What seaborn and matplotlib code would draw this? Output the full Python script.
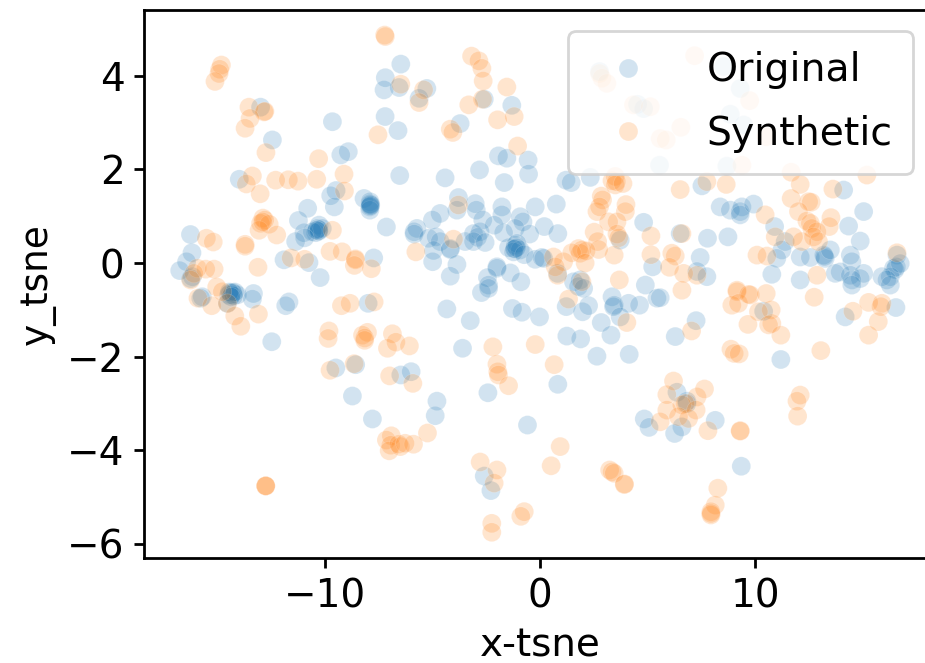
import matplotlib
matplotlib.use("Agg")
import matplotlib.pyplot as plt
import pandas as pd
import seaborn as sns

# points, (x_tsne, y_tsne)
original_tsne = [
    (-13.0,3.33),(-9.66,3.02),(-12.45,2.63),(-7.21,3.13),(-6.61,2.83),(-8.92,2.38),(-9.27,2.31),(-6.48,4.25),
    (-7.2,3.96),(-7.26,3.7),(-6.56,3.75),(-6.53,1.87),(-13.99,1.79),(-9.49,1.55),(-9.74,1.44),(-9.57,1.2),
    (-8.19,1.38),(-7.91,1.31),(-7.91,1.27),(-7.88,1.24),(-7.92,1.2),(-7.92,1.13),(-7.9,1.25),(-7.9,1.22),(-10.81,1.17),(-11.24,0.91),
    (-7.15,0.77),(-10.28,0.81),(-10.36,0.74),(-10.28,0.7),(-10.44,0.65),(-10.13,0.74),(-10.59,0.67),(-10.98,0.65),
    (-10.3,0.72),(-10.3,0.68),(-10.4,0.7),(-10.95,0.54),(-11.37,0.46),(-16.26,0.61),(-16.19,0.22),(-16.44,0.03),(-16.76,-0.16),(-11.91,0.07),(-10.75,0.01),
    (-7.74,0.11),(-10.23,-0.31),(-16.17,-0.29),(-16.25,-0.33),
    (-5.27,3.73),(-5.63,3.52),(-2.6,3.5),(-1.32,3.37),(-3.72,2.98),(-1.94,2.29),(-1.55,2.24),(-0.56,2.2),
    (-2.82,1.99),(-0.54,1.9),(-4.42,1.82),(-1.67,1.72),(1.2,1.77),(1.44,1.72),(2.33,1.83),(-0.23,1.2),
    (0.75,1.26),(-3.8,1.4),(-3.87,1.13),(-3.02,1.27),(-2.97,1.13),(-1.78,1.2),(-1.78,1.03),(-4.65,1.06),
    (-5.01,0.92),(-5.73,0.74),(-5.86,0.67),(-5.86,0.62),(-2.67,0.92),(-2.14,0.81),(-0.93,0.99),(-0.8,0.88),
    (-1.16,0.74),(0.19,0.78),(0.82,0.63),(-0.49,0.62),(-1.7,0.65),(-5.19,0.53),(-4.84,0.56),(-4.65,0.46),
    (-3.49,0.46),(-3.1,0.63),(-2.79,0.67),(-2.91,0.55),(-3.1,0.46),(-2.56,0.44),(-4.96,0.27),(-4.18,0.31),
    (-4.18,0.29),(-5.0,0.03),(-3.87,-0.03),(-4.18,-0.28),(-2.01,-0.08),(-2.01,-0.11),(-1.39,-0.21),(-2.45,-0.31),
    (-2.4,-0.47),(-0.9,-0.4),(-1.47,0.33),(-1.16,0.38),(-1.16,0.31),(-1.08,0.42),(-0.93,0.28),(-1.24,0.24),
    (-1.1,0.33),(-1.2,0.3),(-0.74,0.18),(-0.23,0.08),(0.08,0.12),(0.16,0.1),(0.81,-0.22),(1.55,-0.4),(1.86,-0.36),(3.72,0.49),
    (4.81,0.87),(5.23,-0.08),(4.89,-0.47),
    (2.76,4.09),(4.53,3.39),(4.81,3.3),(5.55,2.09),(8.53,4.2),(9.3,3.73),(8.84,3.18),(9.46,2.95),(8.68,2.07),
    (7.52,1.65),(14.11,1.56),(15.04,1.1),(14.34,0.79),(14.88,0.47),(8.37,1.2),(8.84,1.13),(9.38,1.2),
    (9.3,1.1),(9.3,1.03),(9.92,1.26),(10.9,0.78),(6.51,0.63),(7.78,0.53),(8.73,0.56),(7.44,0.12),
    (7.29,-0.18),(7.75,-0.29),(10.77,-0.24),(12.09,-0.36),(11.39,0.46),(11.24,0.28),(11.0,0.1),(12.09,0.13),
    (12.56,0.12),(13.18,0.17),(13.25,0.1),(13.22,0.14),(13.49,0.28),(14.42,0.17),(14.49,0.03),(13.95,-0.19),(13.72,-0.22),
    (14.42,-0.26),(15.04,-0.22),(14.88,-0.33),(14.5,-0.36),(16.59,0.17),(16.56,-0.08),(16.43,-0.11),(16.5,-0.14),(16.28,-0.29),
    (15.89,-0.29),(16.12,-0.36),(16.74,-0.01),
    (-15.71,-0.72),(-15.78,-0.75),(-14.28,-0.65),(-14.48,-0.68),(-14.08,-0.68),(-14.3,-0.63),(-14.54,-0.86),
    (-14.4,-0.64),(-14.35,-0.68),(-14.25,-0.7),(-14.45,-0.62),(-14.2,-0.62),(-14.38,-0.72),
    (-13.33,-0.65),(-13.38,-0.77),(-11.68,-0.83),(-11.83,-0.91),(-12.48,-1.68),(-8.0,-0.86),(-9.5,-2.24),
    (-8.58,-2.17),(-8.73,-2.84),(-7.8,-3.33),(-6.48,-2.39),
    (-4.34,-0.98),(-3.25,-1.23),(-3.61,-1.82),(-2.73,-0.63),(-2.4,-0.54),(-1.29,-0.97),(-0.85,-1.05),(-0.03,-1.15),
    (1.21,-0.93),(1.97,-1.04),(2.25,-0.91),(2.84,-1.27),(1.24,-1.56),(1.88,-1.62),(3.29,-1.54),(2.64,-1.99),
    (4.14,-1.95),(3.34,-0.72),(3.44,-0.9),(3.41,-0.93),(4.11,-0.86),(3.72,-1.15),(4.62,-0.9),(5.43,-0.75),
    (0.82,-2.59),(-2.43,-2.77),(-0.59,-3.46),(-6.0,-2.32),(-4.8,-2.95),(-4.88,-3.26),(-2.6,-4.55),(-2.29,-4.86),
    (4.84,-3.33),(5.06,-3.51),(1.78,-0.5),(2.02,-0.54),(5.58,-0.74),(14.49,-0.47),(16.28,-0.47),(16.54,-0.95),
    (14.18,-1.15),(7.25,-1.23),(6.28,-1.57),(10.39,-1.03),(11.19,-2.06),(6.36,-2.76),(6.82,-2.95),(6.82,-3.0),
    (8.14,-3.36),(6.59,-3.5),(6.25,-3.64),(9.35,-4.34),
]

synthetic_tsne = [
    (-7.23,4.87),(-7.2,4.84),(-14.82,4.23),(-14.9,4.14),(-14.93,4.05),(-15.12,3.88),(-13.54,3.33),(-12.84,3.23),
    (-12.8,3.24),(-13.49,3.09),(-13.72,2.88),(-7.54,2.74),(-12.75,2.36),(-10.3,2.23),(-9.12,1.9),(-10.39,1.79),
    (-13.38,1.86),(-13.66,1.69),(-12.3,1.77),(-11.71,1.78),(-11.26,1.75),(-13.02,1.48),(-9.1,1.54),(-12.89,0.96),
    (-12.81,0.92),(-13.0,0.85),(-12.6,0.83),(-13.07,0.7),(-12.9,0.88),(-12.25,0.6),(-15.52,0.53),(-15.2,0.45),(-13.72,0.4),
    (-13.72,0.36),(-9.66,0.7),(-9.77,0.25),(-9.21,0.24),(-8.59,0.09),(-8.59,0.07),(-8.64,-0.05),(-7.85,-0.12),
    (-11.58,0.11),(-10.95,0.08),(-13.12,-0.09),(-15.94,-0.11),(-15.55,-0.13),(-15.16,-0.13),(-6.48,3.82),(-15.04,-0.51),
    (-16.1,-0.22),(-16.25,-0.36),
    (-3.19,4.42),(-2.85,4.32),(-2.71,4.16),(-2.65,3.89),(-1.55,3.76),(-2.68,3.5),(-3.32,3.38),(-1.98,3.06),
    (-1.21,3.13),(-4.18,2.86),(-4.06,2.79),(-1.05,2.5),(-5.42,3.7),(-5.63,3.43),(2.76,4.05),(2.87,3.95),
    (3.1,3.84),(4.34,3.38),(5.12,3.34),(5.58,2.66),(7.18,4.43),(9.74,3.47),(6.54,2.9),(5.86,2.63),(9.38,2.09),(10.51,2.7),
    (3.49,1.85),(3.34,1.76),(3.54,1.74),(3.49,1.67),(3.85,1.7),(2.84,1.43),(2.9,1.35),(2.64,1.1),
    (2.76,1.2),(3.99,1.25),(3.96,1.1),(3.18,0.88),(3.57,0.88),(2.51,0.66),(2.67,0.46),(3.57,0.62),
    (3.65,0.54),(5.15,0.58),(5.15,0.18),(3.44,0.17),(2.72,0.29),(1.78,0.31),(1.94,0.28),(1.86,0.21),
    (2.14,0.26),(1.47,0.22),(2.09,0.0),(1.09,0.03),(0.62,0.13),(0.7,-0.08),(0.81,-0.26),(3.68,-0.36),
    (-4.03,0.51),(-3.8,1.24),(-5.78,0.24),(1.94,-0.4),
    (6.51,1.57),(7.75,1.74),(8.65,1.68),(11.67,1.94),(12.09,1.68),(15.19,1.88),(13.61,1.58),(11.67,1.38),
    (12.48,1.31),(12.6,1.3),(12.01,1.1),(10.46,1.03),(13.52,0.97),(13.44,0.78),(12.4,0.9),(12.56,0.85),
    (12.63,0.74),(12.87,0.67),(12.71,0.56),(12.94,0.46),(12.17,0.46),(11.78,0.56),(10.93,0.56),(6.59,0.63),
    (10.08,0.17),(10.54,0.15),(6.28,0.15),(6.12,0.21),(6.01,-0.09),(6.67,-0.22),(7.29,-0.26),(12.87,-0.26),
    (16.59,0.22),(9.15,-0.58),
    (-15.91,-0.75),(-15.27,-0.91),(-14.78,-0.61),(-14.54,-0.86),(-14.2,-1.13),(-13.92,-1.35),(-13.1,-1.09),(-9.24,-0.91),
    (-8.84,-0.86),(-7.72,-0.83),(-9.82,-1.45),(-9.86,-1.61),(-8.03,-1.48),(-8.26,-1.54),(-8.16,-1.6),(-8.16,-1.65),
    (-6.87,-1.51),(-7.1,-1.82),(-6.71,-1.69),(-9.77,-2.29),(-8.65,-2.15),(-7.0,-2.41),(-6.92,-3.69),(-7.15,-3.78),
    (-6.95,-3.89),(-7.02,-4.01),(-6.5,-3.92),(-6.58,-3.87),(-12.76,-4.76),(-12.76,-4.76),(-12.76,-4.76),
    (-6.08,-1.77),(-5.92,-2.57),(-5.24,-3.63),(-5.89,-3.87),(-6.28,-3.85),(-2.2,-1.79),(-2.01,-2.16),(-1.97,-2.32),
    (-1.94,-2.39),(-1.47,-2.62),(-0.23,-1.74),(0.65,-2.17),(1.32,-0.77),(0.93,-3.92),(0.51,-4.33),(-2.79,-4.25),
    (-2.01,-4.42),(-2.14,-4.7),(-0.74,-5.31),(-0.9,-5.41),(-2.25,-5.56),(-2.25,-5.75),(3.23,-4.42),(3.34,-4.46),
    (3.44,-4.49),(3.91,-4.73),(3.92,-4.72),(4.03,-1.27),
    (6.59,-0.58),(9.15,-0.61),(8.91,-0.9),(9.22,-0.86),(9.77,-0.68),(9.69,-0.67),(10.51,-0.65),(10.74,-1.0),
    (10.15,-1.04),(9.66,-1.31),(10.77,-1.29),(10.62,-1.32),(11.19,-1.54),(12.74,-0.73),(14.54,-1.03),(15.27,-0.84),
    (15.89,-0.86),(15.84,-0.93),(15.72,-1.25),(15.27,-1.54),(7.04,-1.45),(13.05,-1.87),(8.87,-1.84),(9.02,-1.93),
    (9.25,-1.94),(12.09,-2.82),(11.94,-2.95),(11.97,-3.27),(6.2,-2.52),(5.89,-2.81),(7.29,-2.86),(7.64,-2.69),
    (6.74,-3.0),(6.59,-3.03),(7.25,-3.14),(5.89,-3.14),(6.43,-3.28),(6.9,-3.32),(5.58,-3.39),(7.8,-3.58),
    (9.3,-3.58),(9.3,-3.59),(8.26,-4.81),(8.14,-5.17),(7.94,-5.31),(7.94,-5.38),(7.94,-5.35),
]

labels = ["Original"] * len(original_tsne) + ["Synthetic"] * len(synthetic_tsne)
df = pd.DataFrame(original_tsne + synthetic_tsne, columns=["x-tsne", "y_tsne"])
df["group"] = labels

plt.rcParams["axes.linewidth"] = 1.0
plt.rcParams["xtick.major.width"] = 1.0
plt.rcParams["ytick.major.width"] = 1.0

fig = plt.figure(figsize=(4.625, 3.315), dpi=200)
# right spine falls outside the canvas, the source image was cropped there
ax = fig.add_axes([144 / 925, 1 - 558 / 663, (937 - 144) / 925, (558 - 10) / 663])

sns.scatterplot(data=df, x="x-tsne", y="y_tsne", hue="group", alpha=0.2, s=46, linewidth=0.25, ax=ax)

ax.set_xlim(-18.42, 18.45)
ax.set_ylim(-6.3, 5.406)
ax.set_xticks([-10, 0, 10])
ax.set_yticks([-6, -4, -2, 0, 2, 4])
ax.tick_params(labelsize=14)
ax.set_xlabel("x-tsne", fontsize=14)
ax.set_ylabel("y_tsne", fontsize=13.5)
ax.legend(fontsize=14.2, loc="upper right", bbox_to_anchor=(0.9697, 0.9617), borderaxespad=0,
          borderpad=0.52, labelspacing=0.65, handletextpad=1.0, title=None)

fig.savefig("out.png", dpi=200)
